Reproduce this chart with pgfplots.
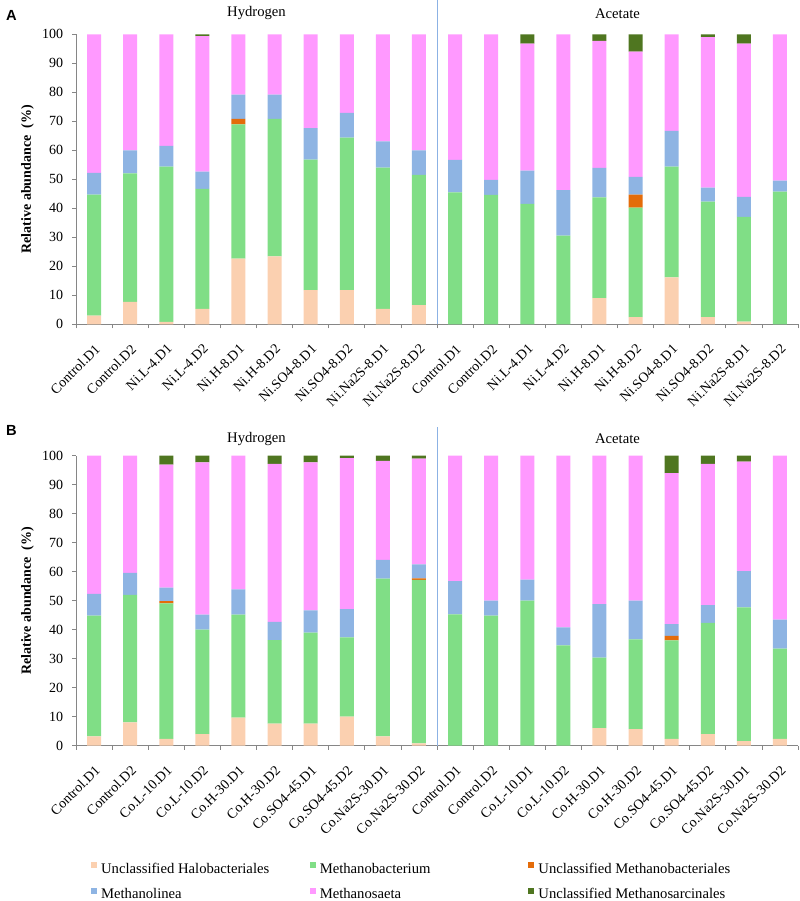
\documentclass[border=0pt]{standalone}
\usepackage{fontspec}
\setmainfont{Liberation Serif}
\newfontfamily\arialfont{Liberation Sans}
\usepackage{pgfplots}
\usepackage{pgfplotstable}
\pgfplotsset{compat=1.18}

\definecolor{cHalo}{RGB}{251,208,176}
\definecolor{cMb}{RGB}{128,222,134}
\definecolor{cUb}{RGB}{228,108,10}
\definecolor{cMl}{RGB}{142,180,227}
\definecolor{cMs}{RGB}{255,153,255}
\definecolor{cDg}{RGB}{79,118,32}
\definecolor{axgray}{RGB}{134,134,134}
\definecolor{sepblue}{RGB}{140,178,228}

\pgfplotstableread{
x halo mb ub ml ms dg
0 3.0 41.7 0 7.5 47.8 0
1 7.7 44.3 0 8.0 40.0 0
2 0.8 53.6 0 7.1 38.5 0
3 5.3 41.4 0 5.9 46.8 0.6
4 22.6 46.3 1.9 8.4 20.8 0
5 23.4 47.4 0 8.4 20.8 0
6 11.8 45.0 0 10.8 32.4 0
7 11.8 52.6 0 8.5 27.1 0
8 5.3 48.7 0 9.1 36.9 0
9 6.6 44.9 0 8.5 40.0 0
10 0 45.5 0 11.2 43.3 0
11 0 44.6 0 5.2 50.2 0
12 0 41.5 0 11.5 43.8 3.2
13 0 30.6 0 15.7 53.7 0
14 9.0 34.8 0 10.1 43.8 2.3
15 2.5 37.7 4.5 6.1 43.2 6.0
16 16.2 38.2 0 12.3 33.3 0
17 2.5 39.8 0 4.8 51.9 1.0
18 0.9 36.1 0 6.9 52.9 3.2
19 0 45.7 0 3.8 50.5 0
}\dataA

\pgfplotstableread{
x halo mb ub ml ms dg
0 3.2 41.7 0 7.5 47.6 0
1 8.1 43.9 0 7.6 40.4 0
2 2.4 46.7 0.8 4.6 42.4 3.1
3 4.0 36.0 0 5.2 52.5 2.3
4 9.7 35.5 0 8.7 46.1 0
5 7.6 28.8 0 6.3 54.5 2.8
6 7.6 31.4 0 7.7 51.0 2.3
7 10.0 27.4 0 9.7 52.1 0.8
8 3.2 54.4 0 6.5 34.1 1.8
9 0.8 56.4 0.5 4.8 36.5 1.0
10 0 45.3 0 11.5 43.2 0
11 0 44.9 0 5.1 50.0 0
12 0 50.0 0 7.3 42.7 0
13 0 34.6 0 6.2 59.2 0
14 6.1 24.3 0 18.4 51.2 0
15 5.7 31.0 0 13.3 50.0 0
16 2.4 33.9 1.6 4.0 52.1 6.0
17 4.0 38.4 0 6.1 48.7 2.8
18 1.6 46.1 0 12.5 37.8 2.0
19 2.4 31.1 0 10.0 56.5 0
}\dataB

\pgfplotsset{
  panel/.style={
    scale only axis, width=541.5pt, height=217.5pt,
    ybar stacked, bar width=10.5pt,
    xmin=-0.5, xmax=19.5, ymin=0, ymax=100,
    axis x line*=bottom, axis y line*=left,
    axis line style={draw=axgray, line width=0.6pt, -},
    ytick={0,10,...,100},
    xtick={0,...,19},
    minor xtick={-0.5,0.5,...,19.5},
    tick align=outside,
    major tick length=3pt, minor tick length=3pt,
    major x tick style={draw=none},
    minor x tick style={draw=axgray, line width=0.6pt},
    y tick style={draw=axgray, line width=0.6pt},
    /pgf/number format/assume math mode=true,
    yticklabel style={font=\fontsize{10.5}{12}\selectfont, inner sep=1pt, xshift=-5.5pt},
    xticklabel style={font=\fontsize{10.5}{12.5}\selectfont, yshift=-11pt, rotate=45, anchor=north east, inner sep=0pt},
    clip=false,
    every axis plot/.append style={draw=none},
  }
}

\begin{document}
\begin{tikzpicture}
\useasboundingbox (0,0) rectangle (600pt,-675.75pt);

% ---------- Panel A ----------
\begin{axis}[panel, at={(57pt,-243.2pt)}, anchor=south west,
  xticklabels={Control.D1,Control.D2,Ni.L-4.D1,Ni.L-4.D2,Ni.H-8.D1,Ni.H-8.D2,Ni.SO4-8.D1,Ni.SO4-8.D2,Ni.Na2S-8.D1,Ni.Na2S-8.D2,Control.D1,Control.D2,Ni.L-4.D1,Ni.L-4.D2,Ni.H-8.D1,Ni.H-8.D2,Ni.SO4-8.D1,Ni.SO4-8.D2,Ni.Na2S-8.D1,Ni.Na2S-8.D2}]
\addplot[fill=cHalo] table[x=x,y=halo]{\dataA};
\addplot[fill=cMb] table[x=x,y=mb]{\dataA};
\addplot[fill=cUb] table[x=x,y=ub]{\dataA};
\addplot[fill=cMl] table[x=x,y=ml]{\dataA};
\addplot[fill=cMs] table[x=x,y=ms]{\dataA};
\addplot[fill=cDg] table[x=x,y=dg]{\dataA};
\draw[sepblue, line width=0.75pt] (axis cs:9.5,0) -- (axis cs:9.5,112);
\node[font=\fontsize{11}{13}\selectfont] at (axis cs:4.5,107.2) {Hydrogen};
\node[font=\fontsize{11}{13}\selectfont] at (axis cs:14.5,107.2) {Acetate};
\node[rotate=90, font=\bfseries\fontsize{10.5}{12}\selectfont] at (rel axis cs:-0.067,0.5) {Relative abundance\ \ (\%)};
\end{axis}

% ---------- Panel B ----------
\begin{axis}[panel, at={(57pt,-559.3pt)}, anchor=south west,
  xticklabels={Control.D1,Control.D2,Co.L-10.D1,Co.L-10.D2,Co.H-30.D1,Co.H-30.D2,Co.SO4-45.D1,Co.SO4-45.D2,Co.Na2S-30.D1,Co.Na2S-30.D2,Control.D1,Control.D2,Co.L-10.D1,Co.L-10.D2,Co.H-30.D1,Co.H-30.D2,Co.SO4-45.D1,Co.SO4-45.D2,Co.Na2S-30.D1,Co.Na2S-30.D2},
  legend columns=3,
  legend cell align=left,
  legend image code/.code={\fill[#1,draw=none] (0pt,1.0pt) rectangle (4.5pt,5.5pt);},
  legend style={at={(rel axis cs:0.015,-0.392)}, anchor=north west, draw=none, fill=none,
    font=\fontsize{11}{13}\selectfont,
    nodes={inner xsep=0pt, inner ysep=0pt, text height=8pt, text depth=2.5pt},
    /tikz/every odd column/.append style={column sep=3pt},
    /tikz/row sep=8.25pt},
]
\addplot[fill=cHalo] table[x=x,y=halo]{\dataB};
\addlegendentry{\makebox[156.5pt][l]{Unclassified Halobacteriales}}
\addplot[fill=cMb] table[x=x,y=mb]{\dataB};
\addlegendentry{\makebox[156.5pt][l]{Methanobacterium}}
\addplot[fill=cUb] table[x=x,y=ub]{\dataB};
\addlegendentry{Unclassified Methanobacteriales}
\addplot[fill=cMl] table[x=x,y=ml]{\dataB};
\addlegendentry{\makebox[156.5pt][l]{Methanolinea}}
\addplot[fill=cMs] table[x=x,y=ms]{\dataB};
\addlegendentry{\makebox[156.5pt][l]{Methanosaeta}}
\addplot[fill=cDg] table[x=x,y=dg]{\dataB};
\addlegendentry{Unclassified Methanosarcinales}
\draw[sepblue, line width=0.75pt] (axis cs:9.5,0) -- (axis cs:9.5,110);
\node[font=\fontsize{11}{13}\selectfont] at (axis cs:4.5,105.9) {Hydrogen};
\node[font=\fontsize{11}{13}\selectfont] at (axis cs:14.5,105.9) {Acetate};
\node[rotate=90, font=\bfseries\fontsize{10.5}{12}\selectfont] at (rel axis cs:-0.067,0.5) {Relative abundance\ \ (\%)};
\end{axis}

\node[font=\arialfont\bfseries\fontsize{11}{13}\selectfont] at (8.6pt,-11.25pt) {A};
\node[font=\arialfont\bfseries\fontsize{11}{13}\selectfont] at (8.6pt,-322.5pt) {B};
\end{tikzpicture}
\end{document}
